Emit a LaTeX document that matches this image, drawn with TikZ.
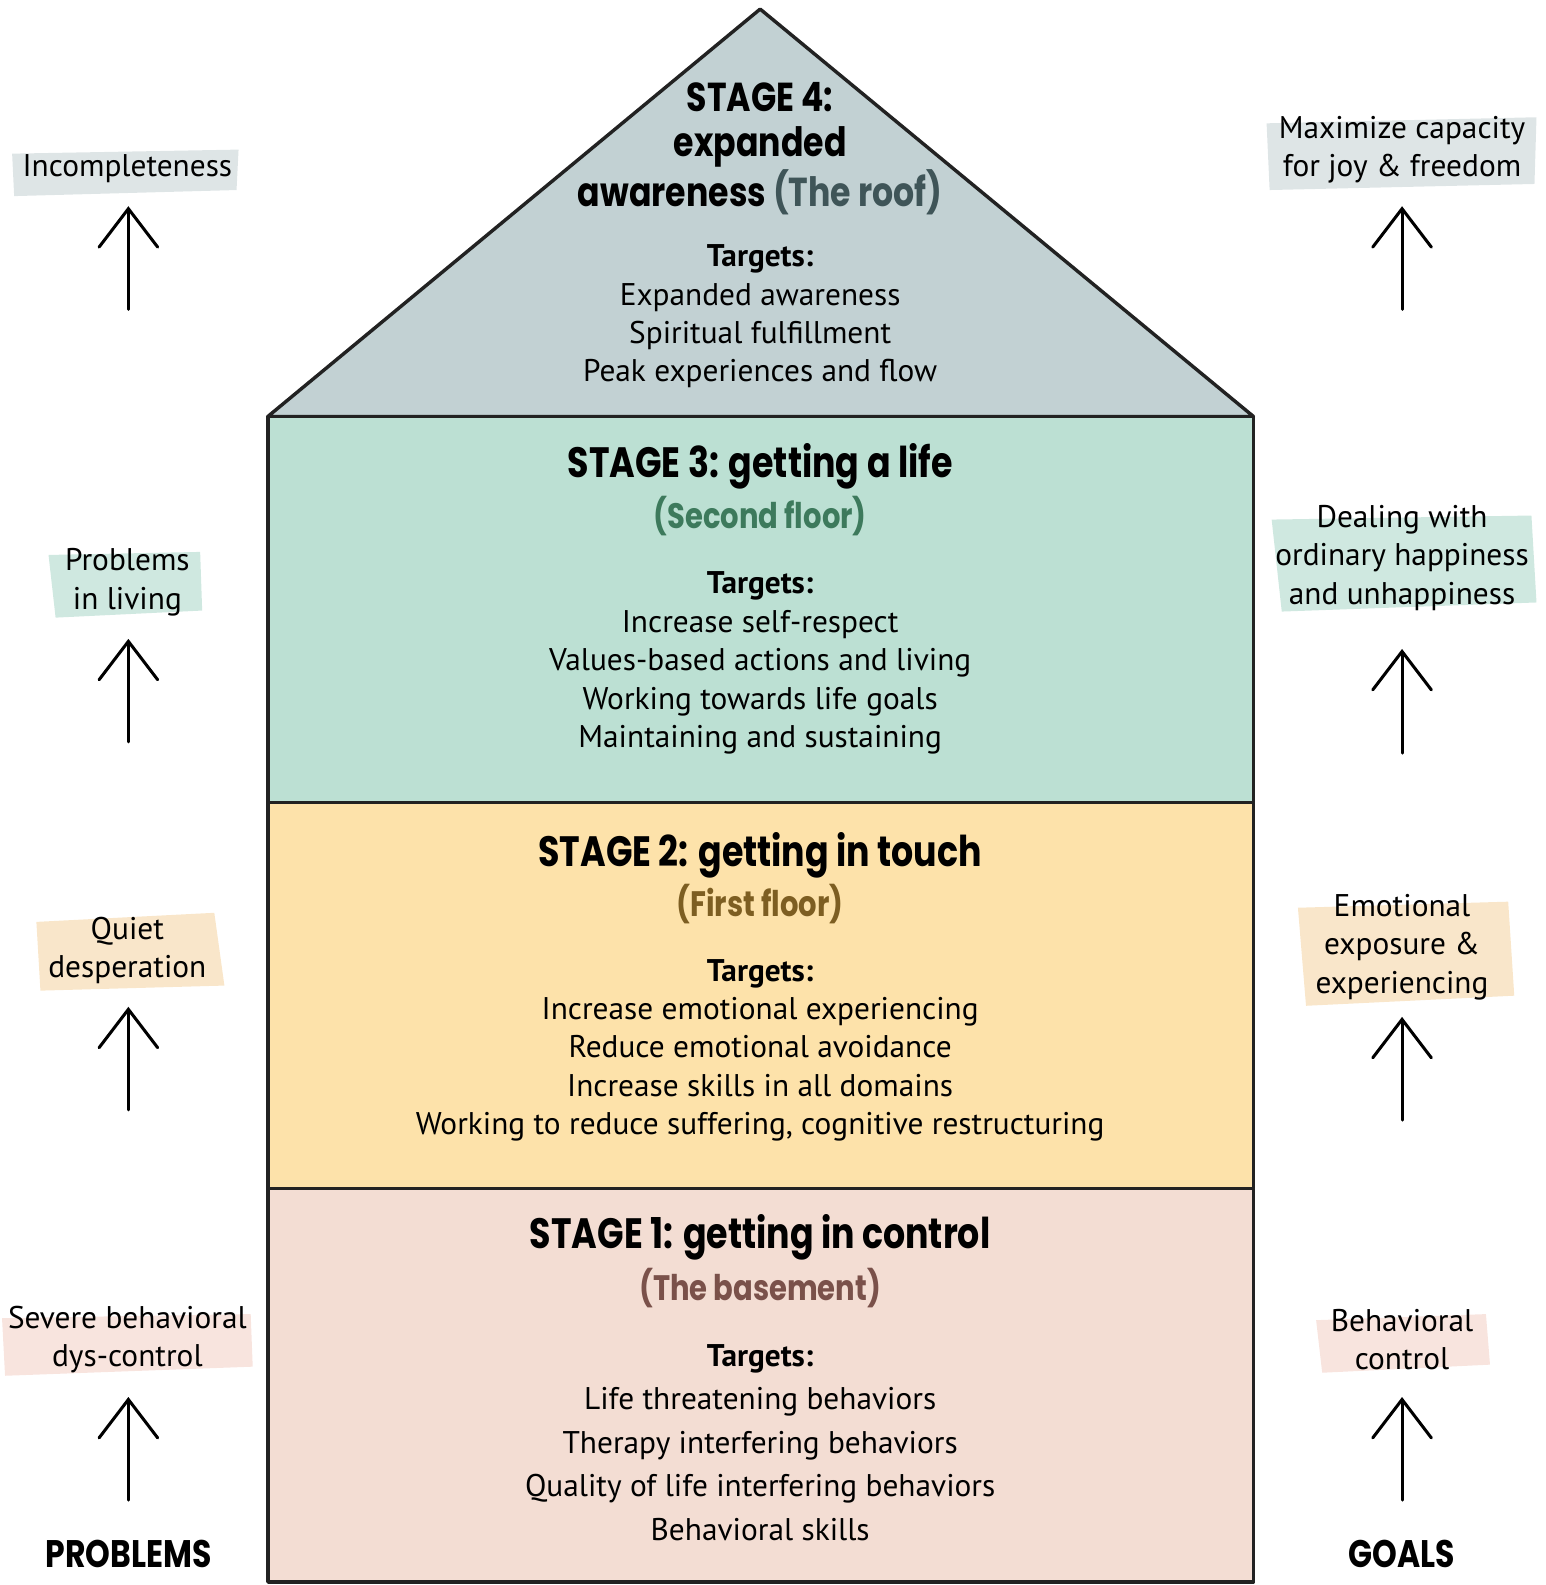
\documentclass[tikz,border=0pt]{standalone}
\usepackage{fontspec}
\setmainfont{PT Sans}
\newfontfamily\headfont{Poppins}[FakeStretch=0.82]
\usetikzlibrary{arrows.meta}

\definecolor{roofc}{HTML}{C2D1D3}
\definecolor{lifec}{HTML}{BCE0D3}
\definecolor{touchc}{HTML}{FDE2AA}
\definecolor{ctrlc}{HTML}{F3DDD3}
\definecolor{roofsub}{HTML}{3F5558}
\definecolor{lifesub}{HTML}{3D7A5C}
\definecolor{touchsub}{HTML}{7D5E22}
\definecolor{ctrlsub}{HTML}{7A514A}
\definecolor{hlroof}{HTML}{DEE5E6}
\definecolor{hllife}{HTML}{CFE8E0}
\definecolor{hltouch}{HTML}{F9E6CA}
\definecolor{hlctrl}{HTML}{F8E4DE}
\definecolor{wallc}{HTML}{222222}

\tikzset{
  house/.style={draw=wallc, line width=1.7pt, line join=round},
  stagetitle/.style={font=\headfont\bfseries\fontsize{21}{22.5}\selectfont, align=center},
  stagesub/.style={font=\headfont\bfseries\fontsize{17.5}{19}\selectfont},
  targets/.style={font=\fontsize{15.5}{19}\selectfont, align=center},
  sidelabel/.style={font=\fontsize{15.5}{19}\selectfont, align=center},
  uparr/.style={line width=1.5pt, line cap=round, -{Straight Barb[length=19pt,width=29pt,line cap=round]}},
  sidehead/.style={font=\headfont\bfseries\fontsize{19}{21}\selectfont, inner sep=0pt}
}

\begin{document}
\begin{tikzpicture}[x=0.5pt,y=-0.5pt]
\useasboundingbox (0,0) rectangle (1529,1568);

%Shape: Roof
\draw[house, fill=roofc] (265,412) -- (752,9) -- (1240,412) -- cycle;
%Shape: Second floor
\draw[house, fill=lifec] (265,412) rectangle (1240,794);
%Shape: First floor
\draw[house, fill=touchc] (265,794) rectangle (1240,1176);
%Shape: Basement
\draw[house, fill=ctrlc] (265,1176) rectangle (1240,1565);

%Stage 4
\node[stagetitle, font=\headfont\bfseries\fontsize{20}{22.5}\selectfont] (s4title) at (752,147) {STAGE 4:\\expanded\\awareness \textcolor{roofsub}{(The roof)}};
\node[targets] (s4targets) at (752,313) {\textbf{Targets:}\\Expanded awareness\\Spiritual fulfillment\\Peak experiences and flow};

%Stage 3
\node[stagetitle] (s3title) at (752,461) {STAGE 3: getting a life};
\node[stagesub, text=lifesub] (s3sub) at (752,511) {(Second floor)};
\node[targets] (s3targets) at (752,656) {\textbf{Targets:}\\Increase self-respect\\Values-based actions and living\\Working towards life goals\\Maintaining and sustaining};

%Stage 2
\node[stagetitle] (s2title) at (752,846) {STAGE 2: getting in touch};
\node[stagesub, text=touchsub] (s2sub) at (752,894) {(First floor)};
\node[targets] (s2targets) at (752,1039) {\textbf{Targets:}\\Increase emotional experiencing\\Reduce emotional avoidance\\Increase skills in all domains\\Working to reduce suffering, cognitive restructuring};

%Stage 1
\node[stagetitle] (s1title) at (752,1224) {STAGE 1: getting in control};
\node[stagesub, text=ctrlsub] (s1sub) at (752,1274) {(The basement)};
\node[targets, font=\fontsize{15.5}{21.5}\selectfont] (s1targets) at (752,1427) {\textbf{Targets:}\\Life threatening behaviors\\Therapy interfering behaviors\\Quality of life interfering behaviors\\Behavioral skills};

%Problems side
\fill[hlroof] (12,152) -- (236,148) -- (234,188) -- (14,194) -- cycle;
\node[sidelabel] (pb4) at (126,167) {Incompleteness};
\fill[hllife] (48,549) -- (198,546) -- (200,604) -- (55,611) -- cycle;
\node[sidelabel] (pb3) at (126,576) {Problems\\in living};
\fill[hltouch] (36,912) -- (212,903) -- (222,975) -- (40,980) -- cycle;
\node[sidelabel] (pb2) at (126,940) {Quiet\\desperation};
\fill[hlctrl] (2,1304) -- (248,1300) -- (250,1352) -- (5,1361) -- cycle;
\node[sidelabel] (pb1) at (126,1325) {Severe behavioral\\dys-control};

\coordinate (pa4) at (127,306); \coordinate (pe4) at (127,204);
\coordinate (pa3) at (127,734); \coordinate (pe3) at (127,632);
\coordinate (pa2) at (127,1098); \coordinate (pe2) at (127,996);
\coordinate (pa1) at (127,1484); \coordinate (pe1) at (127,1382);
\draw[uparr] (pa4) -- (pe4);
\draw[uparr] (pa3) -- (pe3);
\draw[uparr] (pa2) -- (pe2);
\draw[uparr] (pa1) -- (pe1);
\node[sidehead] (problems) at (127,1537) {PROBLEMS};

%Goals side
\fill[hlroof] (1253,122) -- (1520,116) -- (1518,182) -- (1256,188) -- cycle;
\node[sidelabel] (gl4) at (1387,148) {Maximize capacity\\for joy \& freedom};
\fill[hllife] (1258,514) -- (1515,510) -- (1520,596) -- (1268,605) -- cycle;
\node[sidelabel] (gl3) at (1387,552) {Dealing with\\ordinary happiness\\and unhappiness};
\fill[hltouch] (1284,898) -- (1492,892) -- (1498,985) -- (1292,995) -- cycle;
\node[sidelabel] (gl2) at (1387,937) {Emotional\\exposure \&\\experiencing};
\fill[hlctrl] (1302,1306) -- (1470,1300) -- (1474,1350) -- (1308,1358) -- cycle;
\node[sidelabel] (gl1) at (1387,1325) {Behavioral\\control};

\coordinate (ga4) at (1387,306); \coordinate (ge4) at (1387,204);
\coordinate (ga3) at (1387,745); \coordinate (ge3) at (1387,642);
\coordinate (ga2) at (1387,1108); \coordinate (ge2) at (1387,1006);
\coordinate (ga1) at (1387,1484); \coordinate (ge1) at (1387,1382);
\draw[uparr] (ga4) -- (ge4);
\draw[uparr] (ga3) -- (ge3);
\draw[uparr] (ga2) -- (ge2);
\draw[uparr] (ga1) -- (ge1);
\node[sidehead] (goals) at (1387,1537) {GOALS};

\end{tikzpicture}
\end{document}
